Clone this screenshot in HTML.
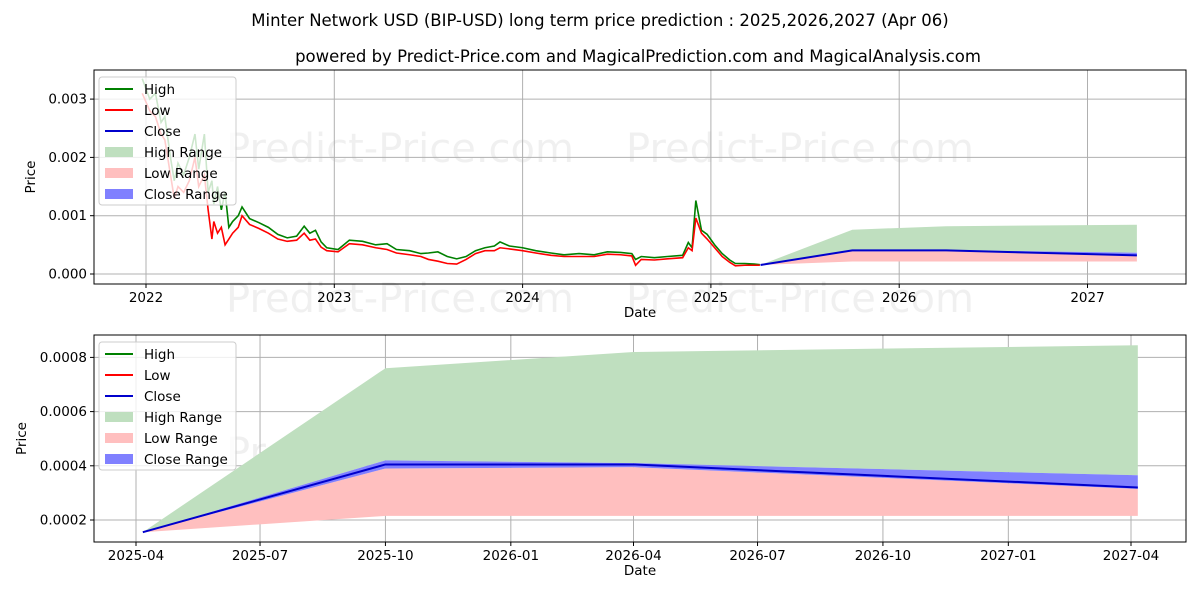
<!DOCTYPE html>
<html><head><meta charset="utf-8"><style>
body{margin:0;background:#fff}
svg{font-family:"DejaVu Sans","Liberation Sans",sans-serif}
</style></head><body>
<svg id="c" width="1200" height="600" xmlns="http://www.w3.org/2000/svg">
<rect width="1200" height="600" fill="#fff"/>
<text x="600" y="26" font-size="16.5" text-anchor="middle">Minter Network USD (BIP-USD) long term price prediction : 2025,2026,2027 (Apr 06)</text>
<text x="638" y="62" font-size="16.5" text-anchor="middle">powered by Predict-Price.com and MagicalPrediction.com and MagicalAnalysis.com</text>
<g id="top"></g>
<g id="bot"></g>
</svg>
<script>
const histYears=[2021.98,2022.02,2022.05,2022.08,2022.10,2022.13,2022.15,2022.17,2022.20,2022.23,2022.26,2022.28,2022.31,2022.33,2022.35,2022.36,2022.38,2022.40,2022.42,2022.44,2022.46,2022.49,2022.51,2022.55,2022.60,2022.65,2022.70,2022.75,2022.80,2022.84,2022.87,2022.90,2022.93,2022.96,2023.02,2023.05,2023.08,2023.15,2023.22,2023.28,2023.33,2023.40,2023.46,2023.50,2023.55,2023.60,2023.65,2023.70,2023.75,2023.80,2023.85,2023.88,2023.93,2024.00,2024.07,2024.15,2024.22,2024.30,2024.38,2024.45,2024.52,2024.58,2024.60,2024.63,2024.70,2024.77,2024.85,2024.88,2024.90,2024.92,2024.95,2024.98,2025.02,2025.06,2025.10,2025.13,2025.18,2025.23,2025.26];
const histHigh=[0.00335,0.0030,0.0031,0.0026,0.0027,0.0020,0.0016,0.0019,0.0017,0.0020,0.0024,0.0018,0.0024,0.0014,0.0016,0.0012,0.0015,0.0011,0.0014,0.0008,0.0009,0.0010,0.00115,0.00095,0.00088,0.0008,0.00068,0.00062,0.00065,0.00082,0.0007,0.00075,0.00055,0.00045,0.00042,0.0005,0.00058,0.00056,0.0005,0.00052,0.00042,0.0004,0.00035,0.00036,0.00038,0.0003,0.00026,0.0003,0.0004,0.00045,0.00048,0.00055,0.00048,0.00045,0.0004,0.00036,0.00033,0.00035,0.00033,0.00038,0.00037,0.00035,0.00025,0.0003,0.00028,0.0003,0.00032,0.00054,0.00045,0.00126,0.00075,0.00068,0.0005,0.00035,0.00024,0.00018,0.00018,0.00017,0.00016];
const histLow=[0.0031,0.0028,0.0027,0.0024,0.0023,0.0017,0.0013,0.0015,0.0014,0.0016,0.0020,0.0015,0.0017,0.0011,0.0006,0.0009,0.0007,0.0008,0.0005,0.0006,0.0007,0.0008,0.0010,0.00085,0.00078,0.0007,0.0006,0.00056,0.00058,0.0007,0.00058,0.0006,0.00046,0.0004,0.00038,0.00045,0.00052,0.0005,0.00045,0.00042,0.00036,0.00033,0.0003,0.00025,0.00022,0.00018,0.00017,0.00025,0.00035,0.0004,0.0004,0.00045,0.00043,0.0004,0.00036,0.00032,0.0003,0.0003,0.0003,0.00034,0.00033,0.00031,0.00015,0.00025,0.00024,0.00026,0.00028,0.00045,0.0004,0.00096,0.0007,0.0006,0.00045,0.0003,0.0002,0.00014,0.00015,0.00015,0.00015];
const fcDays=[5,183,365,735];
const fcHigh=[0.000155,0.00076,0.00082,0.000845];
const fcCloseHi=[0.000155,0.00042,0.00041,0.000365];
const fcClose=[0.000155,0.000405,0.000405,0.00032];
const fcCloseLo=[0.000155,0.00039,0.000395,0.000315];
const fcLow=[0.000155,0.000215,0.000215,0.000215];
const topYTicks=[0,0.001,0.002,0.003];
const topYLabels=["0.000","0.001","0.002","0.003"];
const topXTicks=[2022,2023,2024,2025,2026,2027];
const botYTicks=[0.0002,0.0004,0.0006,0.0008];
const botYLabels=["0.0002","0.0004","0.0006","0.0008"];
const botXDays=[0,91,183,275,365,456,548,640,730];
const botXLabels=["2025-04","2025-07","2025-10","2026-01","2026-04","2026-07","2026-10","2027-01","2027-04"];

const NS="http://www.w3.org/2000/svg";
function mk(p,t,a){const e=document.createElementNS(NS,t);for(const k in a)e.setAttribute(k,a[k]);p.appendChild(e);return e;}
function pts(xs,ys,X,Y){return xs.map((v,i)=>X(v)+","+Y(ys[i])).join(" ");}
function band(xs,hi,lo,X,Y){return pts(xs,hi,X,Y)+" "+pts(xs.slice().reverse(),lo.slice().reverse(),X,Y);}

function drawPanel(g,L,T,R,B,X,Y,yt,yl,xt,xl,fcX,hist){
  mk(g,"rect",{x:L,y:T,width:R-L,height:B-T,fill:"#fff"});
  const wms=hist?[[400,148],[800,148],[400,298],[800,298]]:[[400,452],[800,452]];
  wms.forEach(w=>{const t=mk(g,"text",{x:w[0],y:w[1]+14,"font-size":40,fill:"#000","fill-opacity":0.06,"text-anchor":"middle"});t.textContent="Predict-Price.com";
  
  });
  yt.forEach((v,i)=>{const y=Y(v);mk(g,"line",{x1:L,x2:R,y1:y,y2:y,stroke:"#b0b0b0","stroke-width":1});
    mk(g,"line",{x1:L-4,x2:L,y1:y,y2:y,stroke:"#000"});
    const t=mk(g,"text",{x:L-7,y:y+4.5,"font-size":13.5,"text-anchor":"end"});t.textContent=yl[i];
    
    });
  xt.forEach((v,i)=>{const x=X(v);mk(g,"line",{x1:x,x2:x,y1:T,y2:B,stroke:"#b0b0b0","stroke-width":1});
    mk(g,"line",{x1:x,x2:x,y1:B,y2:B+4,stroke:"#000"});
    const t=mk(g,"text",{x:x,y:B+18,"font-size":13.5,"text-anchor":"middle"});t.textContent=xl[i];
    
    });
  if(hist){
    const h=mk(g,"polyline",{points:pts(histYears,histHigh,X,Y),fill:"none",stroke:"#008000","stroke-width":1.6});
    
    
    const l=mk(g,"polyline",{points:pts(histYears,histLow,X,Y),fill:"none",stroke:"#ff0000","stroke-width":1.6});
    
    
  }
  const hb=mk(g,"polygon",{points:band(fcX,fcHigh,fcCloseHi,X,Y),fill:"#bfdfbf"});
  
  
  const lb=mk(g,"polygon",{points:band(fcX,fcCloseLo,fcLow,X,Y),fill:"#ffbfbf"});
  
  
  const cb=mk(g,"polygon",{points:band(fcX,fcCloseHi,fcCloseLo,X,Y),fill:"#8080ff"});
  
  
  const cl=mk(g,"polyline",{points:pts(fcX,fcClose,X,Y),fill:"none",stroke:"#0000cc","stroke-width":2});
  
  
  mk(g,"rect",{x:L,y:T,width:R-L,height:B-T,fill:"none",stroke:"#000","stroke-width":1});
  const yt2=mk(g,"text",{x:0,y:0,"font-size":13.5,"text-anchor":"middle",transform:`translate(${hist?35:26},${(T+B)/2}) rotate(-90)`});yt2.textContent="Price";
  
  
  const xt2=mk(g,"text",{x:(L+R)/2,y:B+33,"font-size":13.5,"text-anchor":"middle"});xt2.textContent="Date";
  
  
  const lg=mk(g,"g",{});
  
  
  const lx=99,ly=T+7;
  mk(lg,"rect",{x:lx,y:ly,width:137,height:128,rx:3,fill:"#fff","fill-opacity":0.8,stroke:"#ccc"});
  const items=[["High","line","#008000"],["Low","line","#ff0000"],["Close","line","#0000cc"],["High Range","box","#bfdfbf"],["Low Range","box","#ffbfbf"],["Close Range","box","#8080ff"]];
  items.forEach((it,i)=>{const cy=ly+12+i*21;
    if(it[1]=="line")mk(lg,"line",{x1:lx+6,x2:lx+34,y1:cy,y2:cy,stroke:it[2],"stroke-width":2});
    else mk(lg,"rect",{x:lx+6,y:cy-5,width:28,height:10,fill:it[2]});
    const t=mk(lg,"text",{x:lx+45,y:cy+5,"font-size":13.5});t.textContent=it[0];
    
    });
}
const tg=document.getElementById("top");
const tX=y=>146+(y-2022)*188.3, tY=v=>274-v*58300;
const fcYears=fcDays.map(d=>2025.25+d/365.25);
drawPanel(tg,94,70,1186,284,tX,tY,topYTicks,topYLabels,topXTicks,topXTicks.map(String),fcYears,true);
const bg=document.getElementById("bot");
const bX=d=>136+d*995/730, bY=v=>520-(v-0.0002)*271000;
drawPanel(bg,94,335,1186,542,bX,bY,botYTicks,botYLabels,botXDays,botXLabels,fcDays,false);
</script>
</body></html>
